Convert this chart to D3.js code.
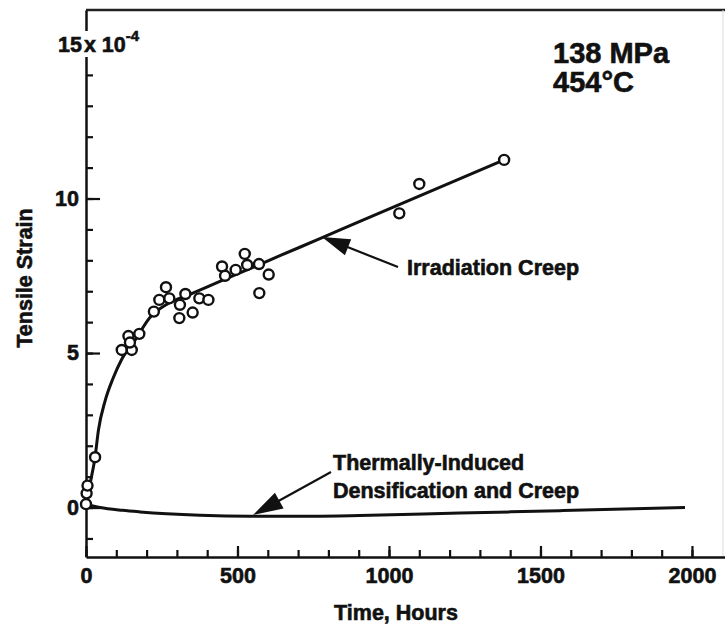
<!DOCTYPE html>
<html>
<head>
<meta charset="utf-8">
<script src="https://cdn.jsdelivr.net/npm/d3@7"></script>
<style>
  html, body { margin: 0; padding: 0; background: #fff; }
  svg { display: block; }
  svg text { font-family: "Liberation Sans", Arial, Helvetica, sans-serif; font-weight: bold; fill: #111; stroke: #111; stroke-width: 0.6px; }
</style>
</head>
<body>
<svg id="chart" width="725" height="628"></svg>
<script>
// ---- data ----
const pointHours  = [0, 2, 5, 30, 118, 151, 140, 145, 176, 224, 242, 264, 275, 308, 310, 328, 352, 374, 404, 449, 459, 494, 524, 532, 571, 603, 572, 1034, 1100, 1380];
const pointStrain = [0.11, 0.46, 0.71, 1.63, 5.10, 5.10, 5.55, 5.34, 5.62, 6.34, 6.72, 7.13, 6.77, 6.13, 6.56, 6.91, 6.31, 6.77, 6.72, 7.80, 7.50, 7.69, 8.21, 7.85, 7.88, 7.54, 6.94, 9.52, 10.47, 11.25];

const creepHours  = [0, 10, 30, 41, 63, 90, 118, 162, 211, 271, 343, 442, 551, 640, 772, 904, 1380];
const creepStrain = [0.05, 0.6, 1.64, 2.5, 3.45, 4.2, 4.8, 5.42, 6.15, 6.6, 6.9, 7.32, 7.77, 8.15, 8.7, 9.26, 11.25];

const thermHours  = [0, 46, 120, 178, 266, 376, 541, 750, 904, 1234, 1564, 1977];
const thermStrain = [0.1, 0.0, -0.09, -0.14, -0.2, -0.25, -0.28, -0.28, -0.26, -0.18, -0.1, 0.0];

const xMajorTicks = [0, 500, 1000, 1500, 2000];
const xMinorTicks = d3.range(0, 2001, 100);
const yMajorTicks = [0, 5, 10];
const yMinorTicks = d3.range(-1, 16, 1);

const condLabel = ["138 MPa", "454\u00B0C"];
const xTitle = "Time, Hours";
const yTitle = "Tensile Strain";
const creepLabel = "Irradiation Creep";
const thermLabel = ["Thermally-Induced", "Densification and Creep"];

// ---- layout ----
const svg = d3.select("#chart");
const x = d3.scaleLinear().domain([0, 2109]).range([86, 725]);
const y = d3.scaleLinear().domain([-1.6, 16.1]).range([557, 10]);

svg.append("rect").attr("width", 725).attr("height", 628).attr("fill", "#fff");

// frame (top + faint right)
svg.append("line").attr("x1", 86).attr("x2", 725).attr("y1", 10).attr("y2", 10)
  .attr("stroke", "#222").attr("stroke-width", 2.5);
svg.append("line").attr("x1", 723).attr("x2", 723).attr("y1", 10).attr("y2", 557)
  .attr("stroke", "#ddd").attr("stroke-width", 1);

// axes
const fontSize = 21.5;
const gx = svg.append("g").attr("transform", `translate(0,557)`);
gx.call(d3.axisBottom(x).tickValues(xMinorTicks).tickSize(-7).tickSizeOuter(0).tickFormat(""));
const gx2 = svg.append("g").attr("transform", `translate(0,557)`);
gx2.call(d3.axisBottom(x).tickValues(xMajorTicks).tickSize(-11).tickSizeOuter(0).tickPadding(10).tickFormat(d3.format("d")));
gx2.select(".domain").remove();

const gy = svg.append("g").attr("transform", `translate(86,0)`);
gy.call(d3.axisLeft(y).tickValues(yMinorTicks).tickSize(-7).tickSizeOuter(0).tickFormat(""));
const gy2 = svg.append("g").attr("transform", `translate(86,0)`);
gy2.call(d3.axisLeft(y).tickValues(yMajorTicks).tickSize(-14).tickSizeOuter(0).tickPadding(7).tickFormat(d3.format("d")));
gy2.select(".domain").remove();

svg.selectAll(".domain").attr("stroke", "#111").attr("stroke-width", 2.5);
svg.selectAll(".tick line").attr("stroke", "#111").attr("stroke-width", 2.2);
svg.selectAll("g").attr("font-family", null).attr("font-size", null);
svg.selectAll(".tick text").attr("font-size", fontSize);
gx2.selectAll(".tick text").attr("dy", null).attr("y", 26);

// 15 x 10^-4 label with white background breaking the axis
svg.append("rect").attr("x", 80).attr("y", 31).attr("width", 14).attr("height", 26).attr("fill", "#fff");
const lab15 = svg.append("text").attr("x", 58).attr("y", y(15) + 8).attr("font-size", fontSize);
lab15.append("tspan").text("15");
lab15.append("tspan").attr("dx", 2).text("x 10");
lab15.append("tspan").attr("dy", -11).attr("font-size", 15).text("-4");

// curves
const line = d3.line().x(d => x(d[0])).y(d => y(d[1])).curve(d3.curveMonotoneX);
svg.append("path").datum(creepHours.map((h, i) => [h, creepStrain[i]]))
  .attr("d", line).attr("fill", "none").attr("stroke", "#111").attr("stroke-width", 3);
svg.append("path").datum(thermHours.map((h, i) => [h, thermStrain[i]]))
  .attr("d", line).attr("fill", "none").attr("stroke", "#111").attr("stroke-width", 3);

// points
svg.append("g").selectAll("circle").data(pointHours.map((h, i) => [h, pointStrain[i]]))
  .join("circle").attr("cx", d => x(d[0])).attr("cy", d => y(d[1])).attr("r", 5)
  .attr("fill", "#fff").attr("stroke", "#111").attr("stroke-width", 2.4);

// arrows
function arrow(x1, y1, x2, y2, len, half) {
  const dx = x2 - x1, dy = y2 - y1, L = Math.hypot(dx, dy);
  const ux = dx / L, uy = dy / L;
  const bx = x2 - ux * len, by = y2 - uy * len;
  svg.append("line").attr("x1", x1).attr("y1", y1).attr("x2", bx + ux * 4).attr("y2", by + uy * 4)
    .attr("stroke", "#111").attr("stroke-width", 2.2);
  svg.append("path").attr("d", `M${x2},${y2}L${bx - uy * half},${by + ux * half}L${bx + uy * half},${by - ux * half}Z`)
    .attr("fill", "#111");
}
arrow(398, 267, 322, 237, 28, 8.5);
arrow(331, 472, 253, 515, 30, 9);

// annotation texts
svg.append("text").attr("x", 407).attr("y", 275).attr("font-size", fontSize).text(creepLabel);
svg.append("text").attr("x", 333).attr("y", 470).attr("font-size", fontSize).text(thermLabel[0]);
svg.append("text").attr("x", 333).attr("y", 498).attr("font-size", fontSize).text(thermLabel[1]);

svg.append("text").attr("x", 553).attr("y", 63).attr("font-size", 29).text(condLabel[0]);
svg.append("text").attr("x", 553).attr("y", 92).attr("font-size", 29).text(condLabel[1]);

// axis titles
svg.append("text").attr("x", 396).attr("y", 620).attr("text-anchor", "middle").attr("font-size", fontSize).text(xTitle);
svg.append("text").attr("transform", "translate(32,278) rotate(-90)").attr("text-anchor", "middle")
  .attr("font-size", fontSize).text(yTitle);
</script>
</body>
</html>
